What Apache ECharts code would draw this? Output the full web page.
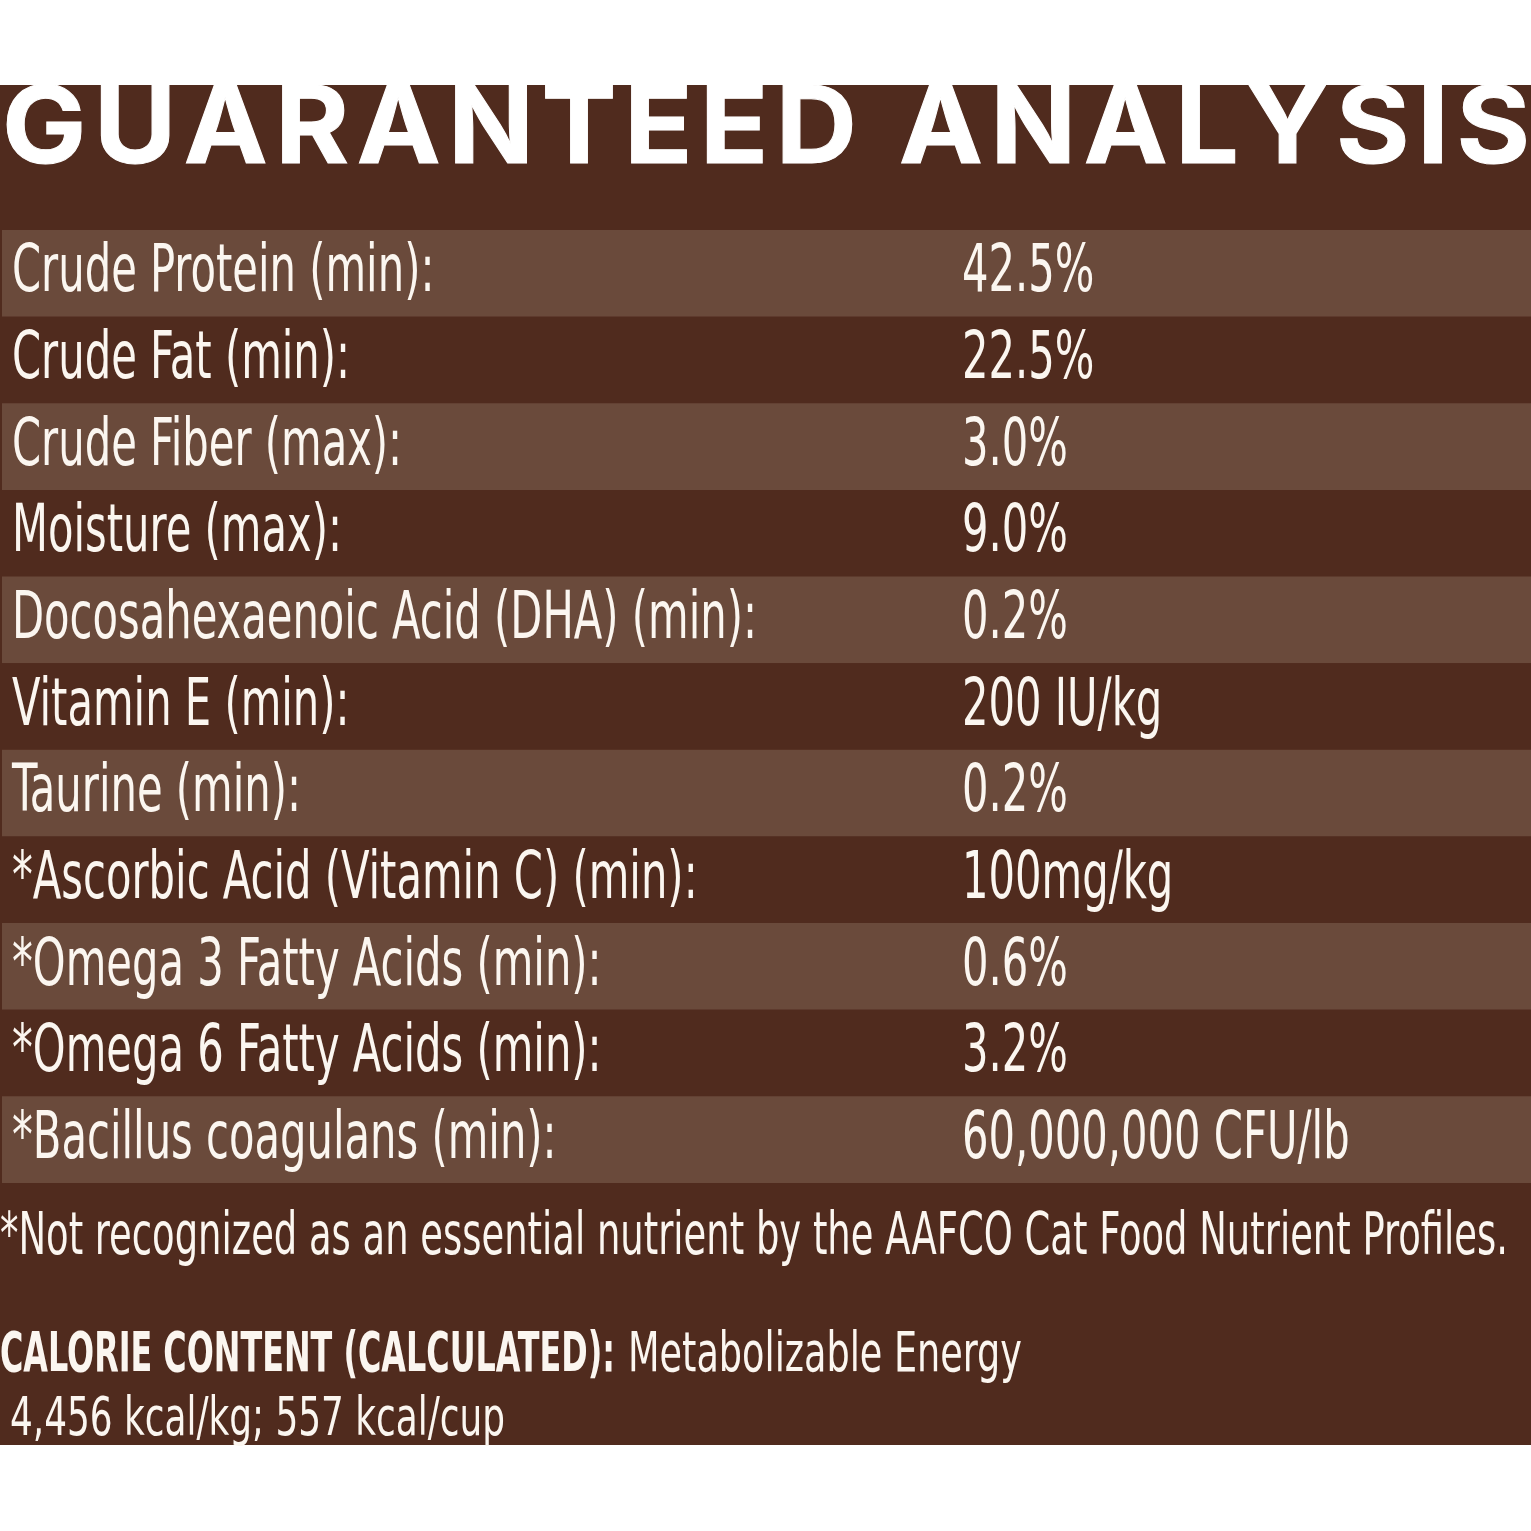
<!DOCTYPE html>
<html>
<head>
<meta charset="utf-8">
<script src="https://cdn.jsdelivr.net/npm/echarts@6/dist/echarts.min.js"></script>
<style>
html, body { margin: 0; padding: 0; background: #ffffff; }
#main { width: 1531px; height: 1531px; }
</style>
</head>
<body>
<div id="main"></div>
<script>
// table rows
var nutrients = [
  'Crude Protein (min):',
  'Crude Fat (min):',
  'Crude Fiber (max):',
  'Moisture (max):',
  'Docosahexaenoic Acid (DHA) (min):',
  'Vitamin E (min):',
  'Taurine (min):',
  '*Ascorbic Acid (Vitamin C) (min):',
  '*Omega 3 Fatty Acids (min):',
  '*Omega 6 Fatty Acids (min):',
  '*Bacillus coagulans (min):'
];
var amounts = [
  '42.5%',
  '22.5%',
  '3.0%',
  '9.0%',
  '0.2%',
  '200 IU/kg',
  '0.2%',
  '100mg/kg',
  '0.6%',
  '3.2%',
  '60,000,000 CFU/lb'
];
var titleText = 'GUARANTEED ANALYSIS';
var footnoteText = '*Not recognized as an essential nutrient by the AAFCO Cat Food Nutrient Profiles.';
var calorieLabel = 'CALORIE CONTENT (CALCULATED):';
var calorieText = 'Metabolizable Energy';
var calorieValues = '4,456 kcal/kg; 557 kcal/cup';

var BROWN = '#502b1e';
var BROWN_LIGHT = '#6a4a3b';
var INK = '#fbf6f0';
var NARROW = '"Liberation Sans Narrow", "DejaVu Sans Condensed", sans-serif';
var HEAVY = 'Inter, Lato, "Open Sans", sans-serif';

// measure text so the narrow font can be squeezed to the label's width
var ctx = document.createElement('canvas').getContext('2d');
function textWidth(str, font) {
  ctx.font = font;
  return ctx.measureText(str).width;
}
var rowFont = '66px ' + NARROW;
var rowScale = 745 / textWidth(nutrients[4], rowFont);
var noteFont = '58px ' + NARROW;
var noteScale = 1508 / textWidth(footnoteText, noteFont);
var calBoldFont = 'bold 56px ' + NARROW;
var calBoldScale = 615 / textWidth(calorieLabel, calBoldFont);
var calFont = '56px ' + NARROW;
var calScale = 394 / textWidth(calorieText, calFont);
var valFont = '53px ' + NARROW;
var valScale = 495 / textWidth(calorieValues, valFont);

// title: slightly widened letters, tracking fills the rest of the width
var titleFont = 'bold 107px ' + HEAVY;
var letterScale = 1.05;
var titleChars = titleText.split('');
var titleNatural = titleChars.reduce(function (s, c) { return s + textWidth(c, titleFont) * letterScale; }, 0);
var tracking = (1528 - titleNatural) / (titleChars.length - 1);
var titleLetters = [];
var cx = 2;
titleChars.forEach(function (c) {
  titleLetters.push({ type: 'text', x: cx, y: 131, scaleX: letterScale,
    style: { text: c, font: titleFont, fill: '#ffffff', stroke: '#ffffff', lineWidth: 1,
      verticalAlign: 'middle' } });
  cx += textWidth(c, titleFont) * letterScale + tracking;
});

var myChart = echarts.init(document.getElementById('main'));

var option = {
  backgroundColor: '#ffffff',
  animation: false,
  graphic: [
    { type: 'rect', z: -10, shape: { x: 0, y: 85, width: 1531, height: 1360 }, style: { fill: BROWN } },
    { type: 'group', children: titleLetters },
    { type: 'text', x: 0, y: 1239, scaleX: noteScale,
      style: { text: footnoteText, font: noteFont, fill: INK, verticalAlign: 'middle' } },
    { type: 'text', x: 0, y: 1356, scaleX: calBoldScale,
      style: { text: calorieLabel, font: calBoldFont, fill: INK, verticalAlign: 'middle' } },
    { type: 'text', x: 628, y: 1356, scaleX: calScale,
      style: { text: calorieText, font: calFont, fill: INK, verticalAlign: 'middle' } },
    { type: 'text', x: 10, y: 1421, scaleX: valScale,
      style: { text: calorieValues, font: valFont, fill: INK, verticalAlign: 'middle' } }
  ],
  grid: { left: 2, right: 0, top: 230, height: 953 },
  xAxis: { type: 'value', min: 0, max: 1, show: false },
  yAxis: { type: 'category', data: nutrients, inverse: true, show: false },
  series: [{
    type: 'custom',
    data: nutrients.map(function (n, i) { return [0, i]; }),
    renderItem: function (params, api) {
      var i = api.value(1);
      var y = api.coord([0, i])[1];
      var h = api.size([0, 1])[1];
      var left = params.coordSys.x;
      var w = params.coordSys.width;
      return {
        type: 'group',
        children: [
          { type: 'rect', shape: { x: left, y: y - h / 2, width: w, height: h },
            style: { fill: i % 2 === 0 ? BROWN_LIGHT : BROWN } },
          { type: 'text', x: 12, y: y + 1, scaleX: rowScale,
            style: { text: nutrients[i], font: rowFont, fill: INK, verticalAlign: 'middle' } },
          { type: 'text', x: 962, y: y + 1, scaleX: rowScale,
            style: { text: amounts[i], font: rowFont, fill: INK, verticalAlign: 'middle' } }
        ]
      };
    }
  }]
};

myChart.setOption(option);
</script>
</body>
</html>
